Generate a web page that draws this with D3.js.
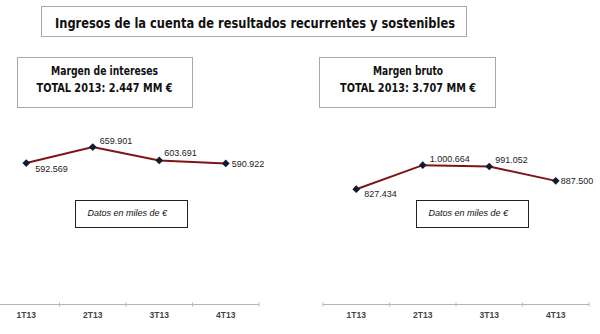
<!DOCTYPE html>
<html>
<head>
<meta charset="utf-8">
<script src="https://cdn.jsdelivr.net/npm/d3@7"></script>
<style>
  html, body { margin: 0; padding: 0; background: #fff; }
  svg { display: block; }
</style>
</head>
<body>
<svg id="chart" width="600" height="334"></svg>
<script>
// Quarterly figures, thousands of euros
const quarters = ["1T13", "2T13", "3T13", "4T13"];
const margenIntereses = [592.569, 659.901, 603.691, 590.922];
const margenBruto = [827.434, 1000.664, 991.052, 887.500];
const labelsIntereses = ["592.569", "659.901", "603.691", "590.922"];
const labelsBruto = ["827.434", "1.000.664", "991.052", "887.500"];
const titleText = "Ingresos de la cuenta de resultados recurrentes y sostenibles";
const panelTitles = ["Margen de intereses", "Margen bruto"];
const panelTotals = ["TOTAL 2013: 2.447 MM €", "TOTAL 2013: 3.707 MM €"];
const unitsNote = "Datos en miles de €";

const svg = d3.select("#chart");
const headFont = "Tahoma, 'DejaVu Sans Condensed', 'DejaVu Sans', Verdana, sans-serif";
const bodyFont = "'Liberation Sans', Arial, sans-serif";

// Main heading box
svg.append("rect").attr("x", 41.5).attr("y", 6.5).attr("width", 425).attr("height", 30)
  .attr("fill", "#fff").attr("stroke", "#a8a8a8").attr("stroke-width", 1);
svg.append("text").attr("x", 255).attr("y", 28).attr("text-anchor", "middle")
  .attr("font-family", headFont).attr("font-weight", "bold").attr("font-size", 14)
  .attr("textLength", 400).attr("lengthAdjust", "spacingAndGlyphs")
  .attr("fill", "#111").text(titleText);

const panels = [
  { values: margenIntereses, labels: labelsIntereses, max: 700,
    range: [-7, 259], box: [17.5, 57.5, 175, 50], center: 104.5, titleLen: 107, note: [75.5, 200.5],
    offsets: [[9, 9], [7, -3], [5, -4], [6, 4]] },
  { values: margenBruto, labels: labelsBruto, max: 1200,
    range: [323, 589], box: [319.5, 57.5, 176, 50], center: 408, titleLen: 70, note: [416.5, 200.5],
    offsets: [[8, 8], [7, -3], [6, -3], [5, 3]] }
];

const axisY = 304, plotTop = 137.5;

panels.forEach((p, i) => {
  // Header box with series name and yearly total
  svg.append("rect").attr("x", p.box[0]).attr("y", p.box[1])
    .attr("width", p.box[2]).attr("height", p.box[3])
    .attr("fill", "#fff").attr("stroke", "#a8a8a8");
  svg.append("text").attr("x", p.center).attr("y", 75).attr("text-anchor", "middle")
    .attr("font-family", headFont).attr("font-weight", "bold").attr("font-size", 11.5)
    .attr("textLength", p.titleLen).attr("lengthAdjust", "spacingAndGlyphs")
    .attr("fill", "#111").text(panelTitles[i]);
  svg.append("text").attr("x", p.center).attr("y", 92).attr("text-anchor", "middle")
    .attr("font-family", headFont).attr("font-weight", "bold").attr("font-size", 11.5)
    .attr("textLength", 136).attr("lengthAdjust", "spacingAndGlyphs")
    .attr("fill", "#111").text(panelTotals[i]);

  const x = d3.scaleBand().domain(quarters).range(p.range);
  const y = d3.scaleLinear().domain([0, p.max]).range([axisY, plotTop]);

  // Category axis
  const axis = d3.axisBottom(x).tickSize(0).tickPadding(8);
  const g = svg.append("g").attr("transform", `translate(0,${axisY})`).call(axis);
  g.select(".domain").attr("stroke", "#b5b5b5").attr("d", `M${p.range[0]},0.5H${p.range[1]}`);
  g.selectAll(".tick text").attr("font-family", bodyFont).attr("font-weight", "bold")
    .attr("font-size", 8.5).attr("fill", "#444");
  const bounds = [p.range[0]].concat(quarters.map(q => x(q) + x.bandwidth()));
  g.selectAll(".sep").data(bounds).enter().append("line")
    .attr("x1", d => d).attr("x2", d => d).attr("y1", -1.5).attr("y2", 2.5)
    .attr("stroke", "#b5b5b5");

  const cx = q => x(q) + x.bandwidth() / 2;
  const line = d3.line().x((d, j) => cx(quarters[j])).y(d => y(d));
  svg.append("path").datum(p.values).attr("d", line)
    .attr("fill", "none").attr("stroke", "#7d1416").attr("stroke-width", 2);

  svg.selectAll(null).data(p.values).enter().append("path")
    .attr("d", d3.symbol(d3.symbolDiamond2, 38)())
    .attr("transform", (d, j) => `translate(${cx(quarters[j])},${y(d)})`)
    .attr("fill", "#101a33");

  svg.selectAll(null).data(p.values).enter().append("text")
    .attr("x", (d, j) => cx(quarters[j]) + p.offsets[j][0])
    .attr("y", (d, j) => y(d) + p.offsets[j][1])
    .attr("font-family", bodyFont).attr("font-size", 9).attr("fill", "#222")
    .text((d, j) => p.labels[j]);

  // Units note
  svg.append("rect").attr("x", p.note[0]).attr("y", p.note[1]).attr("width", 112).attr("height", 27)
    .attr("fill", "#fff").attr("stroke", "#222");
  svg.append("text").attr("x", p.note[0] + 12).attr("y", 215.5)
    .attr("font-family", bodyFont).attr("font-style", "italic").attr("font-size", 9)
    .attr("fill", "#111").text(unitsNote);
});
</script>
</body>
</html>
